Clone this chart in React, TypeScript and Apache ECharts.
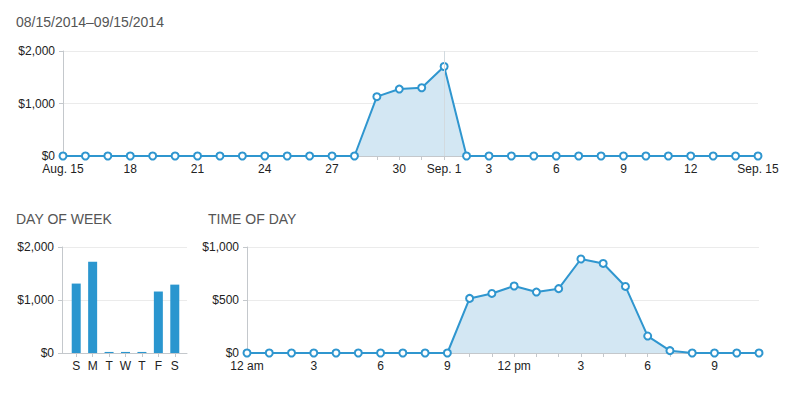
import React, { useEffect, useRef } from "react";
import * as echarts from "echarts";

const dateCategories = [
  "Aug. 15", "16", "17", "18", "19", "20", "21", "22", "23", "24", "25", "26", "27", "28", "29", "30", "31",
  "Sep. 1", "2", "3", "4", "5", "6", "7", "8", "9", "10", "11", "12", "13", "14", "Sep. 15",
];
const dateValues = [
  0, 0, 0, 0, 0, 0, 0, 0, 0, 0, 0, 0, 0, 0, 1130, 1275, 1300,
  1705, 0, 0, 0, 0, 0, 0, 0, 0, 0, 0, 0, 0, 0, 0,
];
const dateLabelIndices = [0, 3, 6, 9, 12, 15, 17, 19, 22, 25, 28, 31];

const weekdays = ["Sun", "Mon", "Tue", "Wed", "Thu", "Fri", "Sat"];
const weekdayLabels = ["S", "M", "T", "W", "T", "F", "S"];
const weekdayValues = [1310, 1720, 20, 20, 20, 1160, 1290];

const hours = [
  "12 am", "1 am", "2 am", "3 am", "4 am", "5 am", "6 am", "7 am", "8 am", "9 am", "10 am", "11 am",
  "12 pm", "1 pm", "2 pm", "3 pm", "4 pm", "5 pm", "6 pm", "7 pm", "8 pm", "9 pm", "10 pm", "11 pm",
];
const hourValues = [0, 0, 0, 0, 0, 0, 0, 0, 0, 0, 515, 562, 632, 575, 607, 887, 845, 628, 160, 22, 0, 0, 0, 0];

const titles = ["08/15/2014–09/15/2014", "DAY OF WEEK", "TIME OF DAY"];

const FONT = "'Liberation Sans', Arial, sans-serif";
const LINE = "#2f96cf";
const AREA = "#d3e7f3";
const BAR = "#2a96cf";
const AXIS = "#c4c8cc";
const GRID = "#ebebeb";
const LABEL = "#222";
const TITLE = "#555";

const money = (v: number) => "$" + v.toLocaleString("en-US");

export default function App() {
  const ref = useRef<HTMLDivElement>(null);
  useEffect(() => {
    document.body.style.margin = "0";
    const chart = echarts.init(ref.current!, null, { renderer: "svg" });
    const yAxisBase = (max: number, interval: number, gridIndex: number) => ({
      type: "value",
      gridIndex,
      min: 0,
      max,
      interval,
      axisLine: { show: true, lineStyle: { color: AXIS } },
      axisTick: { show: true, length: 4, lineStyle: { color: AXIS } },
      axisLabel: { color: LABEL, fontSize: 12, fontFamily: FONT, margin: 8, formatter: (v: number) => money(v) },
      splitLine: { show: true, lineStyle: { color: GRID } },
    });
    const catAxisBase = (data: string[], gridIndex: number) => ({
      type: "category",
      gridIndex,
      data,
      boundaryGap: false,
      axisLine: { show: true, lineStyle: { color: AXIS } },
      axisTick: { show: true, length: 4, interval: 0, lineStyle: { color: AXIS } },
      splitLine: { show: false },
    });
    const lineSeries = (data: number[], idx: number) => ({
      type: "line",
      xAxisIndex: idx,
      yAxisIndex: idx,
      data,
      symbol: "circle",
      symbolSize: 7,
      showAllSymbol: true,
      lineStyle: { color: LINE, width: 2 },
      itemStyle: { color: "#fff", borderColor: LINE, borderWidth: 2 },
      areaStyle: { color: AREA, opacity: 1 },
    });
    const titleStyle = { color: TITLE, fontSize: 14, fontFamily: FONT, fontWeight: "normal", lineHeight: 14 };
    chart.setOption({
      animation: false,
      title: [
        { text: titles[0], left: 16, top: 15, padding: 0, textStyle: titleStyle },
        { text: titles[1], left: 16, top: 212, padding: 0, textStyle: titleStyle },
        { text: titles[2], left: 208, top: 212, padding: 0, textStyle: titleStyle },
      ],
      grid: [
        { left: 63, right: 38, top: 51, height: 105 },
        { left: 62, width: 125, top: 247, height: 106 },
        { left: 68, width: 115, top: 247, height: 106 },
        { left: 247, right: 37, top: 247, height: 106 },
      ],
      xAxis: [
        {
          ...catAxisBase(dateCategories, 0),
          axisLabel: {
            color: LABEL,
            fontSize: 12,
            fontFamily: FONT,
            margin: 7,
            interval: (i: number) => dateLabelIndices.includes(i),
          },
        },
        {
          type: "value",
          gridIndex: 1,
          min: 0,
          max: 1,
          axisLine: { show: true, lineStyle: { color: AXIS } },
          axisTick: { show: false },
          axisLabel: { show: false },
          splitLine: { show: false },
        },
        {
          type: "category",
          gridIndex: 2,
          data: weekdays,
          boundaryGap: true,
          axisLine: { show: false },
          axisTick: { show: true, alignWithLabel: true, length: 4, lineStyle: { color: AXIS } },
          axisLabel: {
            color: LABEL,
            fontSize: 12,
            fontFamily: FONT,
            margin: 7,
            interval: 0,
            formatter: (_v: string, i: number) => weekdayLabels[i],
          },
        },
        {
          ...catAxisBase(hours, 3),
          axisLabel: {
            color: LABEL,
            fontSize: 12,
            fontFamily: FONT,
            margin: 7,
            interval: 2,
            formatter: (v: string) => (v.startsWith("12") ? v : v.split(" ")[0]),
          },
        },
      ],
      yAxis: [
        yAxisBase(2000, 1000, 0),
        yAxisBase(2000, 1000, 1),
        { type: "value", gridIndex: 2, min: 0, max: 2000, show: false },
        yAxisBase(1000, 500, 3),
      ],
      series: [
        {
          ...lineSeries(dateValues, 0),
          markLine: {
            silent: true,
            symbol: "none",
            label: { show: false },
            lineStyle: { color: "#d2dadf", width: 1, type: "solid" },
            data: [{ xAxis: "Sep. 1" }],
          },
        },
        {
          type: "bar",
          xAxisIndex: 2,
          yAxisIndex: 2,
          data: weekdayValues,
          barWidth: 9,
          itemStyle: { color: BAR },
        },
        lineSeries(hourValues, 3),
      ],
    });
    return () => chart.dispose();
  }, []);
  return <div ref={ref} style={{ width: 796, height: 393 }} />;
}
